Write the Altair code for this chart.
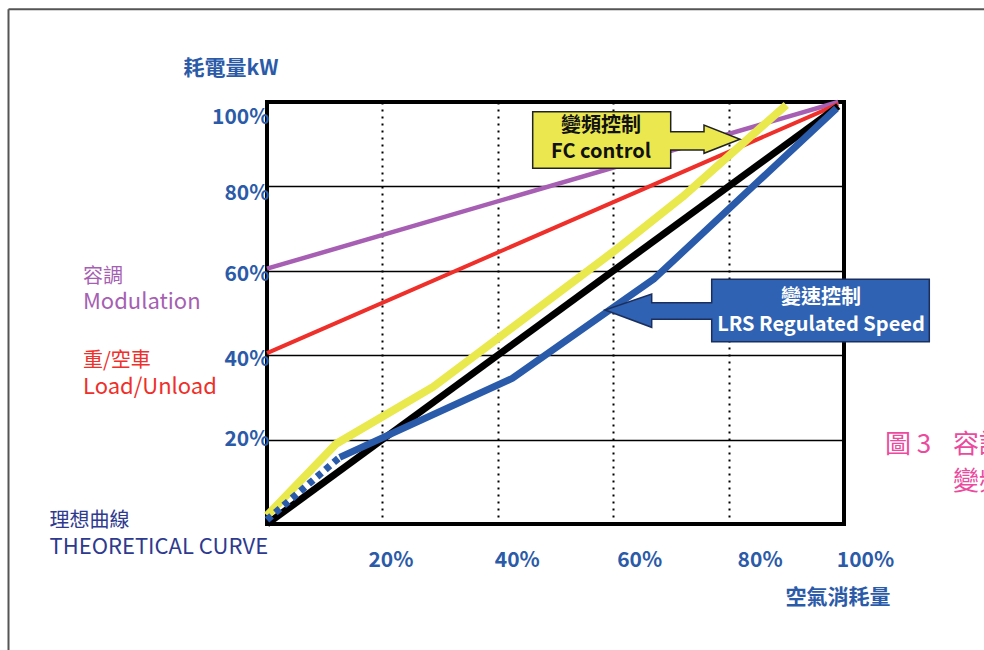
import altair as alt
import pandas as pd

# ---- data (percent of air consumption vs percent of power) ----
theo_x = [0, 99]
theo_y = [0, 99]
mod_x = [0, 99]
mod_y = [60.5, 100]
load_x = [0, 99]
load_y = [40.5, 99.5]
fc_x = [0, 12, 28.8, 60, 72, 90]
fc_y = [2, 19, 32.5, 64.5, 77.5, 99.3]
lrs_dot_x = [0, 12.6]
lrs_dot_y = [1, 15.8]
lrs_x = [12.6, 42.5, 67, 98.7]
lrs_y = [15.8, 34.5, 58, 98.5]

x_ticks = [20, 40, 60, 80, 100]
y_ticks = [20, 40, 60, 80, 100]

FONT = "Noto Sans CJK TC"
BLUE_TXT = "#2B5BA8"

def df(xv, yv):
    return pd.DataFrame({"x": xv, "y": yv, "o": list(range(len(xv)))})

W, H = 577, 422
xs = alt.Scale(domain=[0, 100], nice=False, zero=True)
ys = alt.Scale(domain=[0, 100], nice=False, zero=True)

x_axis = alt.Axis(
    values=x_ticks, labelExpr="datum.value + '%'", grid=True,
    gridColor="black", gridWidth=2, gridDash=[2, 5], domain=False, ticks=False,
    labelFont=FONT, labelFontSize=21, labelFontWeight="bold", labelColor=BLUE_TXT,
    labelPadding=36, labelBaseline="middle", title=None, labelFlush=False,
    labelOffset={"condition": [
        {"test": "datum.value == 20", "value": 8},
        {"test": "datum.value == 40", "value": 19},
        {"test": "datum.value == 60", "value": 26},
        {"test": "datum.value == 80", "value": 31},
    ], "value": 21},
)
y_axis = alt.Axis(
    values=y_ticks, labelExpr="datum.value + '%'", grid=True,
    gridColor="black", gridWidth=1.5, domain=False, ticks=False,
    labelFont=FONT, labelFontSize=21, labelFontWeight="bold", labelColor=BLUE_TXT,
    labelPadding=-2, labelAlign="right", labelBaseline="middle", title=None,
    labelOffset={"condition": [
        {"test": "datum.value == 100", "value": 15},
        {"test": "datum.value == 80", "value": 7},
        {"test": "datum.value == 20", "value": 0},
    ], "value": 4},
)

def line(xv, yv, color, width, dash=None):
    kw = dict(color=color, strokeWidth=width, strokeCap="butt", strokeJoin="round")
    if dash:
        kw["strokeDash"] = dash
    return alt.Chart(df(xv, yv)).mark_line(**kw).encode(
        x=alt.X("x:Q", scale=xs, axis=x_axis),
        y=alt.Y("y:Q", scale=ys, axis=y_axis),
        order="o:Q",
    )

one = alt.Data(values=[{"a": 1}])

def txt(s, px, py, color, size, align="left", weight="normal"):
    return alt.Chart(one).mark_text(
        text=s, font=FONT, fontSize=size, color=color, align=align,
        baseline="middle", fontWeight=weight,
    ).encode(x=alt.value(px - 267), y=alt.value(py - 102))

lines = [
    line(mod_x, mod_y, "#A65FB2", 4.5),
    line(load_x, load_y, "#EE2F2A", 4),
    line(theo_x, theo_y, "#000000", 7),
    line(fc_x, fc_y, "#E9E84C", 8),
    line(lrs_dot_x, lrs_dot_y, "#2A5BAA", 7, dash=[6, 5]),
    line(lrs_x, lrs_y, "#2A5BAA", 7),
]

fc_path = ("M265.7,9.7L403.7,9.7L403.7,29.7L437,29.7L437,23L473,37.3L437,51.3"
           "L437,48L403.7,48L403.7,66.3L265.7,66.3Z")
lrs_path = ("M444.7,177.3L662.3,177.3L662.3,239.7L444.7,239.7L444.7,217.3L384.7,217.3"
            "L384.7,225.3L338,208L384.7,192L384.7,200.7L444.7,200.7Z")

fc_box = alt.Chart(one).mark_point(
    shape=fc_path, size=4, filled=True, fill="#EAE84E", stroke="#222222",
    strokeWidth=1.5, opacity=1,
).encode(x=alt.value(0), y=alt.value(0))
lrs_box = alt.Chart(one).mark_point(
    shape=lrs_path, size=4, filled=True, fill="#2F62B2", stroke="#1B2F5E",
    strokeWidth=1.5, opacity=1,
).encode(x=alt.value(0), y=alt.value(0))

frame_top = alt.Chart(one).mark_rule(color="#555555", strokeWidth=2).encode(
    x=alt.value(8.5 - 267), x2=alt.value(1000), y=alt.value(9.3 - 102))
frame_left = alt.Chart(one).mark_rule(color="#555555", strokeWidth=2).encode(
    x=alt.value(8.5 - 267), y=alt.value(9.3 - 102), y2=alt.value(700))

texts = [
    txt("耗電量kW", 231, 69, BLUE_TXT, 21, align="center", weight="bold"),
    txt("容調", 83, 277, "#A65FB2", 20),
    txt("Modulation", 83, 302, "#A65FB2", 22),
    txt("重/空車", 83, 361, "#EE2F2A", 20),
    txt("Load/Unload", 83, 387, "#EE2F2A", 22),
    txt("理想曲線", 49.5, 521, "#2E3A8F", 20),
    txt("THEORETICAL CURVE", 49.5, 547, "#2E3A8F", 22),
    txt("空氣消耗量", 838, 598, BLUE_TXT, 21, align="center", weight="bold"),
    txt("變頻控制", 601, 126, "#111111", 20, align="center", weight="bold"),
    txt("FC control", 601, 152, "#111111", 20, align="center", weight="bold"),
    txt("變速控制", 821, 298, "#FFFFFF", 20, align="center", weight="bold"),
    txt("LRS Regulated Speed", 821, 325, "#FFFFFF", 20, align="center", weight="bold"),
    txt("圖 3", 885, 445, "#EC4A9E", 26),
    txt("容調、重/空車", 953, 445, "#EC4A9E", 26),
    txt("變頻、變速控制", 953, 482, "#EC4A9E", 26),
]

chart = alt.layer(
    frame_top, frame_left, *lines, fc_box, lrs_box, *texts
).properties(
    width=W, height=H,
    autosize=alt.AutoSizeParams(type="none"),
    padding={"left": 267, "top": 102, "right": 140, "bottom": 126},
    background="white",
).configure_view(stroke="black", strokeWidth=4)

chart.save("out.html", embed_options={"renderer": "svg", "actions": False})
